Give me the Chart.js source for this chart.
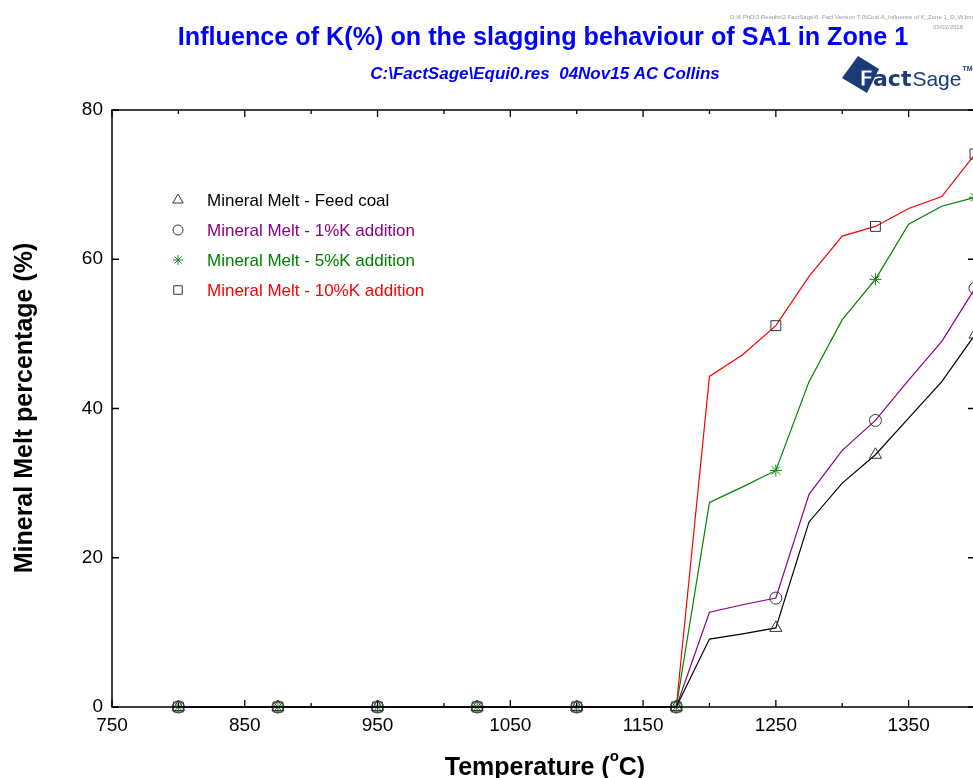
<!DOCTYPE html>
<html>
<head>
<meta charset="utf-8">
<script src="https://cdn.jsdelivr.net/npm/chart.js@4.4.0/dist/chart.umd.min.js"></script>
<style>
  html, body { margin: 0; padding: 0; background: #fff; overflow: hidden; }
  #wrap { width: 990px; height: 778px; }
</style>
</head>
<body>
<div id="wrap"><canvas id="melt" width="990" height="778"></canvas></div>
<script>
// Temperatures (°C) of the equilibrium steps
const temps = [800, 825, 850, 875, 900, 925, 950, 975, 1000, 1025, 1050, 1075, 1100,
               1125, 1150, 1175, 1200, 1225, 1250, 1275, 1300, 1325, 1350, 1375, 1400];

// Mineral melt (%) for each case
const feedCoal = [0, 0, 0, 0, 0, 0, 0, 0, 0, 0, 0, 0, 0, 0, 0, 0,
                  9.1, 9.8, 10.6, 24.8, 30.0, 33.8, 38.7, 43.6, 49.9];
const k1Add    = [0, 0, 0, 0, 0, 0, 0, 0, 0, 0, 0, 0, 0, 0, 0, 0,
                  12.7, 13.7, 14.6, 28.5, 34.4, 38.4, 43.8, 49.0, 56.1];
const k5Add    = [0, 0, 0, 0, 0, 0, 0, 0, 0, 0, 0, 0, 0, 0, 0, 0,
                  27.4, 29.5, 31.7, 43.6, 51.9, 57.3, 64.7, 67.1, 68.3];
const k10Add   = [0, 0, 0, 0, 0, 0, 0, 0, 0, 0, 0, 0, 0, 0, 0, 0,
                  44.3, 47.2, 51.1, 57.7, 63.1, 64.4, 66.8, 68.4, 74.1];

const xTickLabels = [750, 850, 950, 1050, 1150, 1250, 1350];
const xMinorTicks = [800, 900, 1000, 1100, 1200, 1300, 1400];
const yTickLabels = [0, 20, 40, 60, 80];

const seriesNames = [
  'Mineral Melt - Feed coal',
  'Mineral Melt - 1%K addition',
  'Mineral Melt - 5%K addition',
  'Mineral Melt - 10%K addition'
];

const FONT = '"Liberation Sans", Arial, sans-serif';
const NAVY = '#1b3a78';

function toXY(vals) {
  return vals.map((v, i) => ({ x: temps[i], y: v }));
}

// markers only on every third step
function markerSize(r) {
  return ctx => (ctx.dataIndex % 3 === 0 ? r : 0);
}

function makeSeries(label, vals, lineColor, style, markColor, r) {
  return {
    label: label,
    data: toXY(vals),
    borderColor: lineColor,
    borderWidth: 1.2,
    pointStyle: style,
    pointRadius: markerSize(r),
    pointHoverRadius: markerSize(r),
    pointBorderColor: markColor,
    pointBackgroundColor: 'rgba(0,0,0,0)',
    pointBorderWidth: 1,
    markRadius: r,
    textColor: lineColor,
    tension: 0,
    clip: false
  };
}

const datasets = [
  makeSeries(seriesNames[0], feedCoal, '#000000', 'triangle', '#333333', 7),
  makeSeries(seriesNames[1], k1Add, '#8b008b', 'circle', '#333333', 6),
  makeSeries(seriesNames[2], k5Add, '#008000', 'star', '#108a10', 6),
  makeSeries(seriesNames[3], k10Add, '#ff0000', 'rect', '#333333', 7)
];

// frame, inward ticks, titles, legend and logo
const decorations = {
  id: 'decorations',
  afterDraw(chart) {
    const ctx = chart.ctx;
    const a = chart.chartArea;
    const xs = chart.scales.x, ys = chart.scales.y;
    ctx.save();

    // plot frame
    ctx.strokeStyle = '#000';
    ctx.lineWidth = 1.5;
    ctx.strokeRect(a.left, a.top, a.right - a.left, a.bottom - a.top);

    // inward ticks
    ctx.lineWidth = 1.3;
    ctx.beginPath();
    xTickLabels.forEach(v => {
      const px = xs.getPixelForValue(v);
      ctx.moveTo(px, a.bottom); ctx.lineTo(px, a.bottom - 7);
      ctx.moveTo(px, a.top); ctx.lineTo(px, a.top + 7);
    });
    xMinorTicks.forEach(v => {
      const px = xs.getPixelForValue(v);
      ctx.moveTo(px, a.bottom); ctx.lineTo(px, a.bottom - 4);
      ctx.moveTo(px, a.top); ctx.lineTo(px, a.top + 4);
    });
    yTickLabels.forEach(v => {
      const py = ys.getPixelForValue(v);
      ctx.moveTo(a.left, py); ctx.lineTo(a.left + 7, py);
      ctx.moveTo(a.right, py); ctx.lineTo(a.right - 7, py);
    });
    ctx.stroke();

    // main title
    ctx.fillStyle = '#0000ff';
    ctx.textAlign = 'center';
    ctx.textBaseline = 'middle';
    ctx.font = 'bold 25.2px ' + FONT;
    ctx.fillText('Influence of K(%) on the slagging behaviour of SA1 in Zone 1', 543, 38);
    ctx.font = 'italic bold 17px ' + FONT;
    ctx.fillText('C:\\FactSage\\Equi0.res  04Nov15 AC Collins', 545, 74);

    // file path stamp
    ctx.fillStyle = '#999';
    ctx.font = '6px ' + FONT;
    ctx.textAlign = 'left';
    ctx.fillText('D:\\6 PhD\\3 Results\\2 FactSage\\6. Fact Version 7.0\\Coal A_Influence of K_Zone 1_D_W.bmp', 730, 17);
    ctx.fillText('03/02/2016', 933, 27);

    // FactSage logo
    ctx.fillStyle = NAVY;
    ctx.beginPath();
    ctx.moveTo(858, 56); ctx.lineTo(879, 69); ctx.lineTo(867, 93); ctx.lineTo(842, 78);
    ctx.closePath();
    ctx.fill();
    ctx.textBaseline = 'alphabetic';
    ctx.font = 'bold 22px "DejaVu Sans", sans-serif';
    ctx.lineWidth = 1.2;
    ctx.strokeStyle = NAVY;
    ctx.fillStyle = '#fff';
    ctx.fillText('F', 859, 86);
    ctx.strokeText('F', 859, 86);
    const fW = ctx.measureText('F').width;
    ctx.fillStyle = NAVY;
    ctx.fillText('act', 859 + fW - 1, 86);
    const aW = ctx.measureText('act').width;
    ctx.font = '21px "Liberation Sans Narrow", "Liberation Sans", sans-serif';
    ctx.fillText('Sage', 859 + fW + aW, 86);
    const sW = ctx.measureText('Sage').width;
    ctx.font = 'bold 7px ' + FONT;
    ctx.fillText('TM', 859 + fW + aW + sW + 1, 71);

    // axis titles
    ctx.fillStyle = '#000';
    ctx.textAlign = 'left';
    ctx.textBaseline = 'alphabetic';
    const p1 = 'Temperature (', p2 = 'C)';
    ctx.font = 'bold 25px ' + FONT;
    const w1 = ctx.measureText(p1).width;
    const w2 = ctx.measureText(p2).width;
    ctx.font = 'bold 15px ' + FONT;
    const wo = ctx.measureText('o').width;
    let tx = 545 - (w1 + wo + w2) / 2;
    ctx.font = 'bold 25px ' + FONT;
    ctx.fillText(p1, tx, 775);
    ctx.fillText(p2, tx + w1 + wo, 775);
    ctx.font = 'bold 15px ' + FONT;
    ctx.fillText('o', tx + w1, 761);

    ctx.save();
    ctx.translate(25, 408);
    ctx.rotate(-Math.PI / 2);
    ctx.textAlign = 'center';
    ctx.textBaseline = 'middle';
    ctx.font = 'bold 25px ' + FONT;
    ctx.fillText('Mineral Melt percentage (%)', 0, 0);
    ctx.restore();

    // legend inside the plot
    ctx.font = '17px ' + FONT;
    ctx.textAlign = 'left';
    ctx.textBaseline = 'middle';
    ctx.lineWidth = 1;
    chart.data.datasets.forEach((ds, i) => {
      const y = 200 + i * 30;
      ctx.strokeStyle = ds.pointBorderColor;
      ctx.fillStyle = 'rgba(0,0,0,0)';
      Chart.helpers.drawPoint(ctx, {
        pointStyle: ds.pointStyle, rotation: 0, radius: ds.markRadius - 1, borderWidth: 1
      }, 178, y);
      ctx.fillStyle = ds.textColor;
      ctx.fillText(ds.label, 207, y + 1);
    });

    ctx.restore();
  }
};

new Chart(document.getElementById('melt'), {
  type: 'line',
  data: { datasets: datasets },
  options: {
    responsive: false,
    animation: false,
    devicePixelRatio: 1,
    layout: { padding: { top: 110, right: 15, left: 0, bottom: 0 } },
    plugins: {
      legend: { display: false },
      tooltip: { enabled: false }
    },
    scales: {
      x: {
        type: 'linear',
        min: 750,
        max: 1400,
        grid: { display: false, drawTicks: false },
        border: { display: false },
        afterBuildTicks: s => { s.ticks = xTickLabels.map(v => ({ value: v })); },
        afterFit: s => { s.height = 71; },
        ticks: {
          color: '#000',
          font: { family: FONT, size: 19 },
          padding: 7,
          maxRotation: 0,
          autoSkip: false,
          callback: v => String(v)
        }
      },
      y: {
        min: 0,
        max: 80,
        grid: { display: false, drawTicks: false },
        border: { display: false },
        afterBuildTicks: s => { s.ticks = yTickLabels.map(v => ({ value: v })); },
        afterFit: s => { s.width = 112; },
        ticks: {
          color: '#000',
          font: { family: FONT, size: 19 },
          padding: 9,
          callback: v => String(v)
        }
      }
    }
  },
  plugins: [decorations]
});
</script>
</body>
</html>
